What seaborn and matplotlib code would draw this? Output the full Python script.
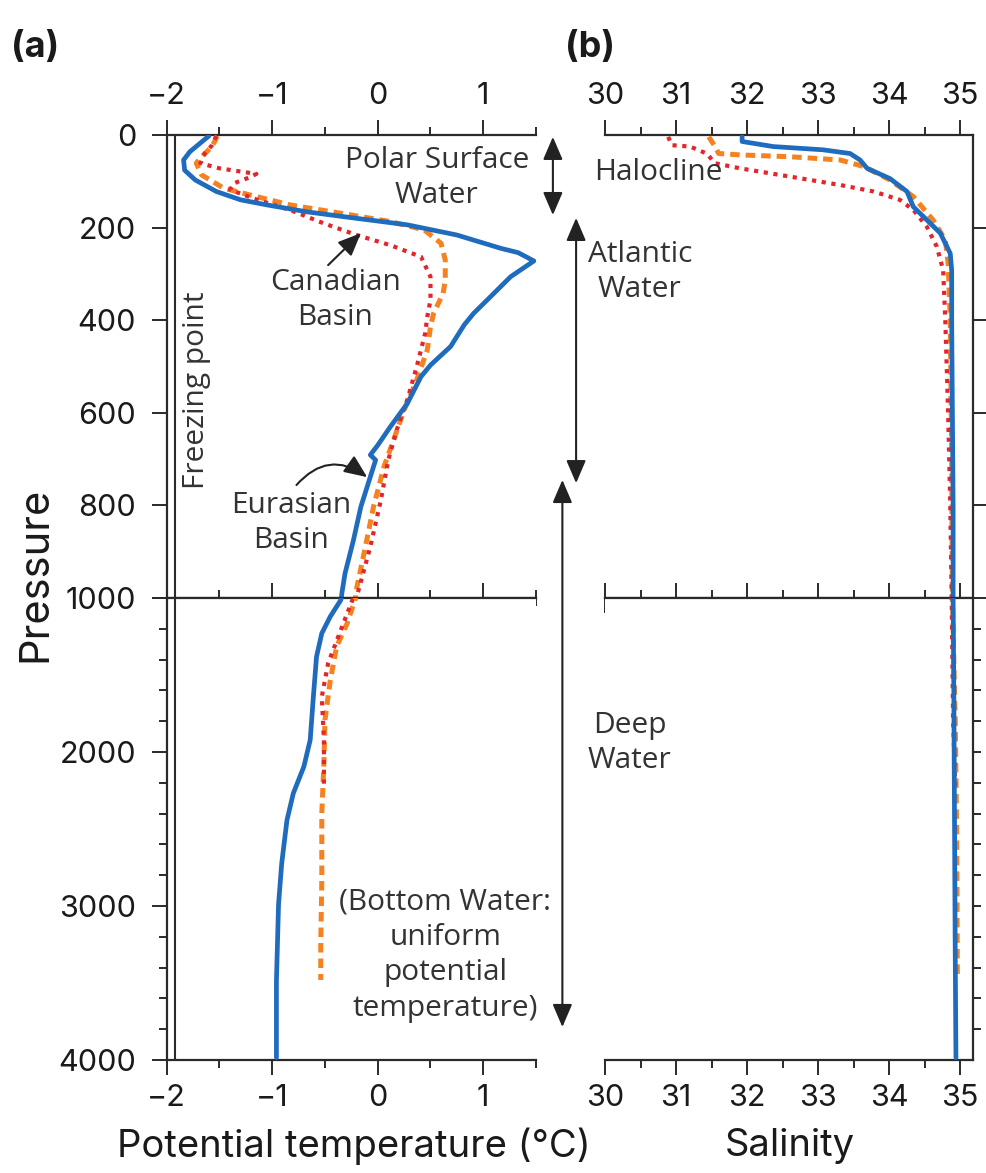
import numpy as np
import pandas as pd
import matplotlib
matplotlib.use("Agg")
import matplotlib.pyplot as plt
import seaborn as sns
from matplotlib.ticker import MultipleLocator, FixedLocator, FixedFormatter

# ---------------- data ----------------
# Potential temperature profiles (pressure in dbar, theta in deg C)
eur_t_p = [2, 36, 54, 76, 97, 122, 140, 151, 166, 180, 194, 216, 245, 254, 272, 306, 349, 385, 410,
           457, 497, 522, 580, 630, 670, 691, 702, 738, 803, 875, 947, 990, 1013, 1121, 1229, 1381,
           1641, 1922, 2095, 2268, 2442, 2723, 2989, 3486, 3985]
eur_t = [-1.60, -1.78, -1.84, -1.83, -1.73, -1.53, -1.30, -1.05, -0.67, -0.20, 0.28, 0.75, 1.17, 1.33,
         1.48, 1.26, 1.07, 0.91, 0.82, 0.69, 0.50, 0.41, 0.28, 0.12, 0.00, -0.07, -0.02, -0.07, -0.16,
         -0.23, -0.31, -0.34, -0.35, -0.45, -0.53, -0.58, -0.61, -0.64, -0.70, -0.80, -0.86, -0.91,
         -0.94, -0.96, -0.96]

can1_t_p = [2, 25, 47, 61, 86, 115, 133, 151, 169, 187, 205, 234, 270, 313, 342, 385, 414, 464, 529,
            594, 659, 716, 803, 904, 990, 1002, 1165, 1316, 1537, 1792, 2073, 2398, 2831, 3264, 3480]
can1_t = [-1.52, -1.57, -1.67, -1.72, -1.67, -1.46, -1.15, -0.83, -0.35, 0.12, 0.44, 0.60, 0.64, 0.64,
          0.62, 0.53, 0.50, 0.47, 0.37, 0.25, 0.15, 0.06, -0.04, -0.13, -0.21, -0.21, -0.29, -0.39,
          -0.45, -0.50, -0.51, -0.53, -0.53, -0.54, -0.54]

can2_t_p = [2, 22, 40, 61, 72, 84, 92, 104, 118, 137, 162, 191, 216, 238, 263, 306, 356, 392, 428,
            500, 572, 637, 702, 788, 889, 990, 1013, 1208, 1424, 1641, 1922, 2225]
can2_t = [-1.53, -1.57, -1.64, -1.68, -1.50, -1.15, -1.22, -1.36, -1.40, -1.18, -0.83, -0.51, -0.20,
          0.12, 0.41, 0.50, 0.50, 0.47, 0.45, 0.37, 0.28, 0.18, 0.10, 0.03, -0.07, -0.19, -0.24,
          -0.35, -0.47, -0.53, -0.51, -0.51]

# Salinity profiles
eur_s_p = [4, 14, 25, 32, 40, 54, 72, 94, 122, 155, 176, 212, 256, 292, 400, 600, 800, 1000, 1600,
           2460, 3330, 3985]
eur_s = [31.93, 31.93, 32.37, 33.07, 33.45, 33.59, 33.69, 34.01, 34.25, 34.34, 34.48, 34.72, 34.86,
         34.88, 34.88, 34.89, 34.90, 34.90, 34.91, 34.92, 34.93, 34.94]

can1_s_p = [4, 25, 40, 43, 47, 54, 68, 97, 133, 184, 227, 277, 400, 700, 1000, 1800, 2500, 3480]
can1_s = [31.46, 31.55, 31.60, 31.90, 32.61, 33.31, 33.64, 34.01, 34.34, 34.62, 34.79, 34.83, 34.86,
          34.88, 34.89, 34.93, 34.95, 34.96]

can2_s_p = [4, 22, 25, 40, 61, 72, 90, 108, 122, 140, 162, 198, 241, 292, 400, 600, 800, 1000, 1800, 2225]
can2_s = [30.89, 30.94, 31.20, 31.43, 31.55, 31.90, 32.61, 33.31, 33.78, 34.15, 34.34, 34.53, 34.67,
          34.76, 34.79, 34.83, 34.86, 34.88, 34.90, 34.93]

freezing_point = -1.92

temp_ticks = [-2, -1, 0, 1]
sal_ticks = [30, 31, 32, 33, 34, 35]
upper_p_ticks = [0, 200, 400, 600, 800, 1000]
lower_p_ticks = [1000, 2000, 3000, 4000]
lower_p_labels = ["", "2000", "3000", "4000"]

# ---------------- style ----------------
sns.set_theme(style="ticks")
plt.rcParams['font.family'] = ['Inter', 'DejaVu Sans']
plt.rcParams['axes.unicode_minus'] = True

INK = "#2a2a2a"
BLUE = "#1f6bbd"
ORANGE = "#f5821f"
RED = "#e3262b"
TICK_FS = 22
ANN = dict(family=['Open Sans', 'DejaVu Sans'], fontsize=21.5, color='#333333',
           ha='center', va='center', linespacing=1.3)

W, H = 987, 1173
fig = plt.figure(figsize=(W / 100, H / 100), dpi=100)
fig.patch.set_facecolor('white')


def rect(x0, x1, y0, y1):
    return [x0 / W, 1 - y1 / H, (x1 - x0) / W, (y1 - y0) / H]


axA_up = fig.add_axes(rect(166.7, 536, 135, 598))
axA_lo = fig.add_axes(rect(166.7, 536, 598, 1060))
axB_up = fig.add_axes(rect(605, 973, 135, 598))
axB_lo = fig.add_axes(rect(605, 973, 598, 1060))
axes = [axA_up, axA_lo, axB_up, axB_lo]

# ---------------- lines ----------------
series_T = [
    (can1_t, can1_t_p, ORANGE, 3.6, (0, (1.9, 1.2))),
    (can2_t, can2_t_p, RED, 3.0, (0, (1.0, 1.35))),
    (eur_t, eur_t_p, BLUE, 3.4, '-'),
]
series_S = [
    (can1_s, can1_s_p, ORANGE, 3.6, (0, (1.9, 1.2))),
    (can2_s, can2_s_p, RED, 3.0, (0, (1.0, 1.35))),
    (eur_s, eur_s_p, BLUE, 3.4, '-'),
]

for ax in (axA_up, axA_lo):
    ax.axvline(freezing_point, color=INK, lw=1.5, zorder=1)
    for xv, yv, c, lw, ls in series_T:
        sns.lineplot(x=xv, y=yv, ax=ax, sort=False, estimator=None, color=c, lw=lw,
                     linestyle=ls, zorder=3)
for ax in (axB_up, axB_lo):
    for xv, yv, c, lw, ls in series_S:
        sns.lineplot(x=xv, y=yv, ax=ax, sort=False, estimator=None, color=c, lw=lw,
                     linestyle=ls, zorder=3)

# ---------------- axes styling ----------------
for ax in axes:
    ax.set_facecolor('white')
    ax.set_xlabel("")
    ax.set_ylabel("")
    for s in ax.spines.values():
        s.set_color(INK)
        s.set_linewidth(1.6)
    ax.tick_params(which='both', direction='out', color=INK, width=1.4,
                   labelcolor='#1a1a1a', labelsize=TICK_FS)
    ax.tick_params(which='major', length=11)
    ax.tick_params(which='minor', length=5.5)

for ax in (axA_up, axA_lo):
    ax.set_xlim(-2, 1.5)
    ax.spines['right'].set_visible(False)
    ax.xaxis.set_major_locator(FixedLocator(temp_ticks))
    ax.xaxis.set_minor_locator(MultipleLocator(0.5))
for ax in (axB_up, axB_lo):
    ax.set_xlim(30, 35.18)
    ax.spines['left'].set_visible(False)
    ax.xaxis.set_major_locator(FixedLocator(sal_ticks))
    ax.xaxis.set_minor_locator(MultipleLocator(0.5))

for ax in (axA_up, axB_up):
    ax.set_ylim(1000, 0)
    ax.tick_params(axis='x', which='both', top=True, bottom=True, labeltop=True,
                   labelbottom=False, pad=7)
for ax in (axA_lo, axB_lo):
    ax.set_ylim(4000, 1000)
    ax.tick_params(axis='x', which='both', top=True, bottom=True, labeltop=False,
                   labelbottom=True, pad=6)

axA_up.yaxis.set_major_locator(FixedLocator(upper_p_ticks))
axA_up.tick_params(axis='y', left=True, right=False, pad=11)
axA_lo.yaxis.set_major_locator(FixedLocator(lower_p_ticks))
axA_lo.yaxis.set_major_formatter(FixedFormatter(lower_p_labels))
axA_lo.yaxis.set_minor_locator(MultipleLocator(200))
axA_lo.tick_params(axis='y', which='both', left=True, right=False, pad=11)

axB_up.yaxis.set_major_locator(FixedLocator([200, 400, 600, 800, 1000]))
axB_up.tick_params(axis='y', left=False, right=True, labelleft=False, labelright=False, length=10)
axB_lo.yaxis.set_major_locator(FixedLocator(list(range(1200, 4000, 200))))
axB_lo.tick_params(axis='y', left=False, right=True, labelleft=False, labelright=False, length=6)

# ---------------- labels ----------------
fig.text(35 / W, 1 - 574 / H, "Pressure", rotation=90, ha='center', va='center',
         fontsize=30, color='#1a1a1a')
fig.text(354 / W, 1 - 1146 / H, "Potential temperature (°C)", ha='center', va='center',
         fontsize=27.5, color='#1a1a1a')
fig.text(790 / W, 1 - 1146 / H, "Salinity", ha='center', va='center',
         fontsize=27.5, color='#1a1a1a')
fig.text(35 / W, 1 - 48 / H, "(a)", ha='center', va='center', fontsize=26,
         fontweight='bold', color='#1a1a1a')
fig.text(590 / W, 1 - 48 / H, "(b)", ha='center', va='center', fontsize=26,
         fontweight='bold', color='#1a1a1a')

# ---------------- annotations ----------------
axA_up.text(0.56, 93, "Polar Surface\nWater", **ANN)
axA_up.text(-0.40, 356, "Canadian\nBasin", **ANN)
axA_up.text(-1.72, 551, "Freezing point", rotation=90, **ANN)
axA_up.text(-0.82, 838, "Eurasian\nBasin", **ANN)
axA_lo.text(0.64, 3318, "(Bottom Water:\nuniform\npotential\ntemperature)", **ANN)
axB_up.text(30.75, 82, "Halocline", **ANN)
axB_up.text(30.49, 296, "Atlantic\nWater", **ANN)
axB_lo.text(30.35, 1942, "Deep\nWater", **ANN)

arrow_one = dict(arrowstyle='-|>,head_length=0.7,head_width=0.3', color='#222222', lw=1.5,
                 shrinkA=0, shrinkB=0, mutation_scale=20)
arrow_two = dict(arrowstyle='<|-|>,head_length=0.7,head_width=0.3', color='#222222', lw=1.5,
                 shrinkA=0, shrinkB=0, mutation_scale=20)

axA_up.annotate("", xy=(-0.16, 212), xytext=(-0.47, 281), arrowprops=arrow_one)
axA_up.annotate("", xy=(-0.10, 739), xytext=(-0.77, 756),
                arrowprops=dict(arrow_one, connectionstyle="arc3,rad=-0.45"))
axA_up.annotate("", xy=(1.66, 4), xytext=(1.66, 173), arrowprops=arrow_two,
                annotation_clip=False)
axA_up.annotate("", xy=(1.88, 179), xytext=(1.88, 752), arrowprops=arrow_two,
                annotation_clip=False)
axA_lo.annotate("", xy=(1.75, 3786), xycoords='data', xytext=(1.75, 745),
                textcoords=axA_up.transData, arrowprops=arrow_two, annotation_clip=False)

fig.savefig("out.png", dpi=100, facecolor='white')
